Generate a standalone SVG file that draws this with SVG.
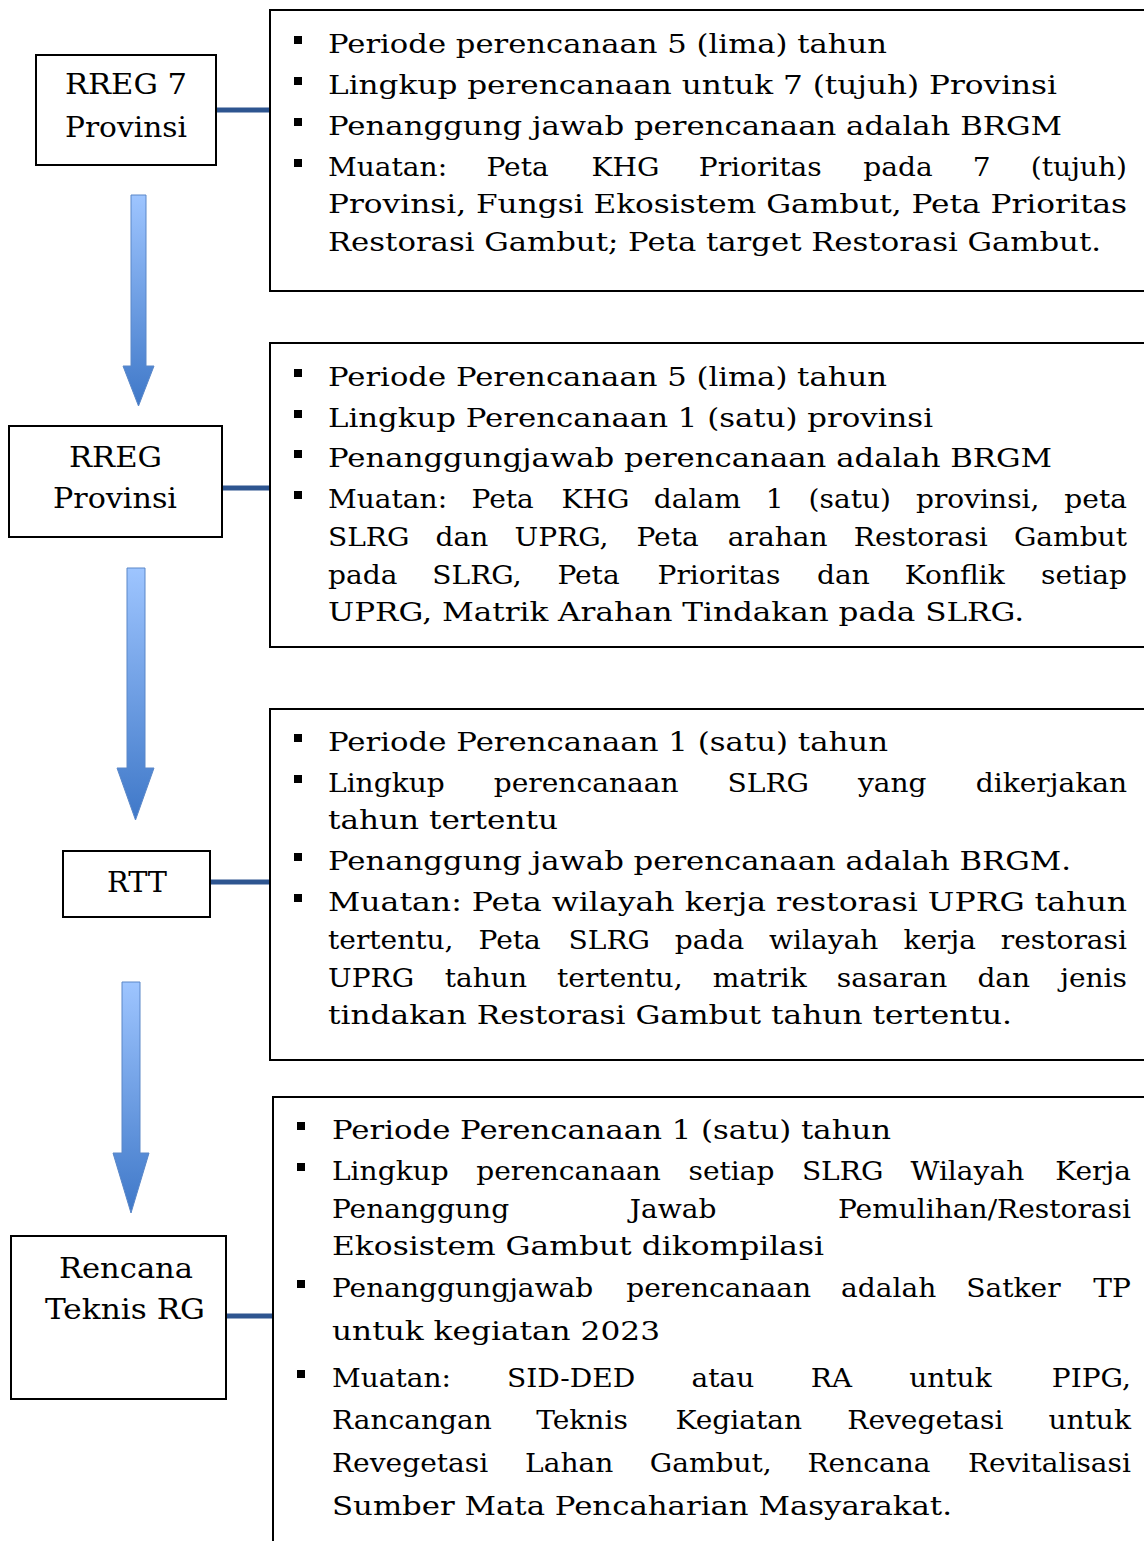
<svg xmlns="http://www.w3.org/2000/svg" width="1144" height="1541" viewBox="0 0 1144 1541">
<style>
.t{font-family:"DejaVu Serif","Liberation Serif",serif;font-size:26px;fill:#000}
.e{text-anchor:end}
.n{font-family:"DejaVu Serif","Liberation Serif",serif;font-size:27px;fill:#000}
.box{fill:#fff;stroke:#000;stroke-width:2}
.conn{stroke:#2E5590;stroke-width:5;fill:none}
.arr{fill:url(#ag);stroke:#5A87C8;stroke-width:1}
.b{fill:#000}
</style>
<defs>
<linearGradient id="ag" x1="0" y1="0" x2="0" y2="1">
<stop offset="0" stop-color="#9EC5FF"/>
<stop offset="1" stop-color="#3F78C8"/>
</linearGradient>
</defs>
<rect width="1144" height="1541" fill="#fff"/>

<g id="connectors">
<line class="conn" x1="214" y1="110" x2="270" y2="110"/>
<line class="conn" x1="222" y1="488" x2="270" y2="488"/>
<line class="conn" x1="208" y1="882" x2="270" y2="882"/>
<line class="conn" x1="222" y1="1316" x2="273" y2="1316"/>
<path class="arr" d="M131,195 H146 V366 H154 L138.5,406 L123,366 H131 Z"/>
<path class="arr" d="M127,568 H145 V768 H154 L135.5,820 L117,768 H127 Z"/>
<path class="arr" d="M122,982 H140 V1153 H149 L131,1213 L113,1153 H122 Z"/>
</g>

<g id="node-rreg7">
<rect class="box" x="36" y="55" width="180" height="110"/>
<text class="n" x="65" y="94" textLength="122" lengthAdjust="spacingAndGlyphs">RREG 7</text>
<text class="n" x="65" y="137" textLength="122" lengthAdjust="spacingAndGlyphs">Provinsi</text>
</g>

<g id="node-rreg-prov">
<rect class="box" x="9" y="426" width="213" height="111"/>
<text class="n" x="69" y="467" textLength="93" lengthAdjust="spacingAndGlyphs">RREG</text>
<text class="n" x="53" y="508" textLength="124" lengthAdjust="spacingAndGlyphs">Provinsi</text>
</g>

<g id="node-rtt">
<rect class="box" x="63" y="851" width="147" height="66"/>
<text class="n" x="107" y="892" textLength="60" lengthAdjust="spacingAndGlyphs">RTT</text>
</g>

<g id="node-rencana">
<rect class="box" x="11" y="1236" width="215" height="163"/>
<text class="n" x="59" y="1278" textLength="134" lengthAdjust="spacingAndGlyphs">Rencana</text>
<text class="n" x="45" y="1319" textLength="160" lengthAdjust="spacingAndGlyphs">Teknis RG</text>
</g>

<g id="box-rreg7">
<rect class="box" x="270" y="10" width="900" height="281"/>
<rect class="b" x="294" y="36" width="8" height="8"/>
<rect class="b" x="294" y="77" width="8" height="8"/>
<rect class="b" x="294" y="118" width="8" height="8"/>
<rect class="b" x="294" y="159" width="8" height="8"/>
<text class="t" x="328" y="53" textLength="559" lengthAdjust="spacingAndGlyphs">Periode perencanaan 5 (lima) tahun</text>
<text class="t" x="328" y="94" textLength="729" lengthAdjust="spacingAndGlyphs">Lingkup perencanaan untuk 7 (tujuh) Provinsi</text>
<text class="t" x="328" y="135" textLength="734" lengthAdjust="spacingAndGlyphs">Penanggung jawab perencanaan adalah BRGM</text>
<text class="t" y="176" transform="scale(1.08,1)"><tspan x="303.7">Muatan:</tspan><tspan x="450.4">Peta</tspan><tspan x="547.8">KHG</tspan><tspan x="647">Prioritas</tspan><tspan x="799.4">pada</tspan><tspan x="900.7">7</tspan></text>
<text class="t e" x="1043.5" y="176" transform="scale(1.08,1)">(tujuh)</text>
<text class="t" x="328" y="213" textLength="799" lengthAdjust="spacingAndGlyphs">Provinsi, Fungsi Ekosistem Gambut, Peta Prioritas</text>
<text class="t" x="328" y="251" textLength="773" lengthAdjust="spacingAndGlyphs">Restorasi Gambut; Peta target Restorasi Gambut.</text>
</g>

<g id="box-rreg-prov">
<rect class="box" x="270" y="343" width="900" height="304"/>
<rect class="b" x="294" y="369" width="8" height="8"/>
<rect class="b" x="294" y="410" width="8" height="8"/>
<rect class="b" x="294" y="450" width="8" height="8"/>
<rect class="b" x="294" y="491" width="8" height="8"/>
<text class="t" x="328" y="386" textLength="559" lengthAdjust="spacingAndGlyphs">Periode Perencanaan 5 (lima) tahun</text>
<text class="t" x="328" y="427" textLength="605" lengthAdjust="spacingAndGlyphs">Lingkup Perencanaan 1 (satu) provinsi</text>
<text class="t" x="328" y="467" textLength="724" lengthAdjust="spacingAndGlyphs">Penanggungjawab perencanaan adalah BRGM</text>
<text class="t" y="508" transform="scale(1.08,1)"><tspan x="303.7">Muatan:</tspan><tspan x="436.6">Peta</tspan><tspan x="520">KHG</tspan><tspan x="605.4">dalam</tspan><tspan x="709.1">1</tspan><tspan x="748.7">(satu)</tspan><tspan x="848.1">provinsi,</tspan></text>
<text class="t e" x="1043.5" y="508" transform="scale(1.08,1)">peta</text>
<text class="t" y="546" transform="scale(1.08,1)"><tspan x="303.7">SLRG</tspan><tspan x="403.2">dan</tspan><tspan x="476.4">UPRG,</tspan><tspan x="589.3">Peta</tspan><tspan x="673.9">arahan</tspan><tspan x="790.6">Restorasi</tspan></text>
<text class="t e" x="1043.5" y="546" transform="scale(1.08,1)">Gambut</text>
<text class="t" y="584" transform="scale(1.08,1)"><tspan x="303.7">pada</tspan><tspan x="400.3">SLRG,</tspan><tspan x="516.1">Peta</tspan><tspan x="608.8">Prioritas</tspan><tspan x="756.6">dan</tspan><tspan x="837.8">Konflik</tspan></text>
<text class="t e" x="1043.5" y="584" transform="scale(1.08,1)">setiap</text>
<text class="t" x="328" y="621" textLength="696" lengthAdjust="spacingAndGlyphs">UPRG, Matrik Arahan Tindakan pada SLRG.</text>
</g>

<g id="box-rtt">
<rect class="box" x="270" y="709" width="900" height="351"/>
<rect class="b" x="294" y="734" width="8" height="8"/>
<rect class="b" x="294" y="775" width="8" height="8"/>
<rect class="b" x="294" y="853" width="8" height="8"/>
<rect class="b" x="294" y="894" width="8" height="8"/>
<text class="t" x="328" y="751" textLength="560" lengthAdjust="spacingAndGlyphs">Periode Perencanaan 1 (satu) tahun</text>
<text class="t" y="792" transform="scale(1.08,1)"><tspan x="303.7">Lingkup</tspan><tspan x="457.2">perencanaan</tspan><tspan x="673.7">SLRG</tspan><tspan x="794.4">yang</tspan></text>
<text class="t e" x="1043.5" y="792" transform="scale(1.08,1)">dikerjakan</text>
<text class="t" x="328" y="829" textLength="230" lengthAdjust="spacingAndGlyphs">tahun tertentu</text>
<text class="t" x="328" y="870" textLength="743" lengthAdjust="spacingAndGlyphs">Penanggung jawab perencanaan adalah BRGM.</text>
<text class="t" x="328" y="911" textLength="799" lengthAdjust="spacingAndGlyphs">Muatan: Peta wilayah kerja restorasi UPRG tahun</text>
<text class="t" y="949" transform="scale(1.08,1)"><tspan x="303.7">tertentu,</tspan><tspan x="443.1">Peta</tspan><tspan x="526.5">SLRG</tspan><tspan x="624.8">pada</tspan><tspan x="712.1">wilayah</tspan><tspan x="836.5">kerja</tspan></text>
<text class="t e" x="1043.5" y="949" transform="scale(1.08,1)">restorasi</text>
<text class="t" y="987" transform="scale(1.08,1)"><tspan x="303.7">UPRG</tspan><tspan x="411.8">tahun</tspan><tspan x="515.8">tertentu,</tspan><tspan x="660">matrik</tspan><tspan x="774.8">sasaran</tspan><tspan x="905">dan</tspan></text>
<text class="t e" x="1043.5" y="987" transform="scale(1.08,1)">jenis</text>
<text class="t" x="328" y="1024" textLength="684" lengthAdjust="spacingAndGlyphs">tindakan Restorasi Gambut tahun tertentu.</text>
</g>

<g id="box-rencana">
<rect class="box" x="273" y="1097" width="900" height="460"/>
<rect class="b" x="297" y="1122" width="8" height="8"/>
<rect class="b" x="297" y="1163" width="8" height="8"/>
<rect class="b" x="297" y="1280" width="8" height="8"/>
<rect class="b" x="297" y="1370" width="8" height="8"/>
<text class="t" x="332" y="1139" textLength="559" lengthAdjust="spacingAndGlyphs">Periode Perencanaan 1 (satu) tahun</text>
<text class="t" y="1180" transform="scale(1.08,1)"><tspan x="307.4">Lingkup</tspan><tspan x="440.9">perencanaan</tspan><tspan x="637.5">setiap</tspan><tspan x="742.5">SLRG</tspan><tspan x="843.1">Wilayah</tspan></text>
<text class="t e" x="1047.2" y="1180" transform="scale(1.08,1)">Kerja</text>
<text class="t" y="1218" transform="scale(1.08,1)"><tspan x="307.4">Penanggung</tspan><tspan x="583.1">Jawab</tspan></text>
<text class="t e" x="1047.2" y="1218" transform="scale(1.08,1)">Pemulihan/Restorasi</text>
<text class="t" x="332" y="1255" textLength="492" lengthAdjust="spacingAndGlyphs">Ekosistem Gambut dikompilasi</text>
<text class="t" y="1297" transform="scale(1.08,1)"><tspan x="307.4">Penanggungjawab</tspan><tspan x="579.9">perencanaan</tspan><tspan x="778.8">adalah</tspan><tspan x="894.7">Satker</tspan></text>
<text class="t e" x="1047.2" y="1297" transform="scale(1.08,1)">TP</text>
<text class="t" x="332" y="1340" textLength="328" lengthAdjust="spacingAndGlyphs">untuk kegiatan 2023</text>
<text class="t" y="1387" transform="scale(1.08,1)"><tspan x="307.4">Muatan:</tspan><tspan x="469.4">SID-DED</tspan><tspan x="640.2">atau</tspan><tspan x="750.6">RA</tspan><tspan x="841.8">untuk</tspan></text>
<text class="t e" x="1047.2" y="1387" transform="scale(1.08,1)">PIPG,</text>
<text class="t" y="1429" transform="scale(1.08,1)"><tspan x="307.4">Rancangan</tspan><tspan x="496.5">Teknis</tspan><tspan x="625.5">Kegiatan</tspan><tspan x="784.5">Revegetasi</tspan></text>
<text class="t e" x="1047.2" y="1429" transform="scale(1.08,1)">untuk</text>
<text class="t" y="1472" transform="scale(1.08,1)"><tspan x="307.4">Revegetasi</tspan><tspan x="486.2">Lahan</tspan><tspan x="601.6">Gambut,</tspan><tspan x="747.6">Rencana</tspan></text>
<text class="t e" x="1047.2" y="1472" transform="scale(1.08,1)">Revitalisasi</text>
<text class="t" x="332" y="1515" textLength="620" lengthAdjust="spacingAndGlyphs">Sumber Mata Pencaharian Masyarakat.</text>
</g>
</svg>
